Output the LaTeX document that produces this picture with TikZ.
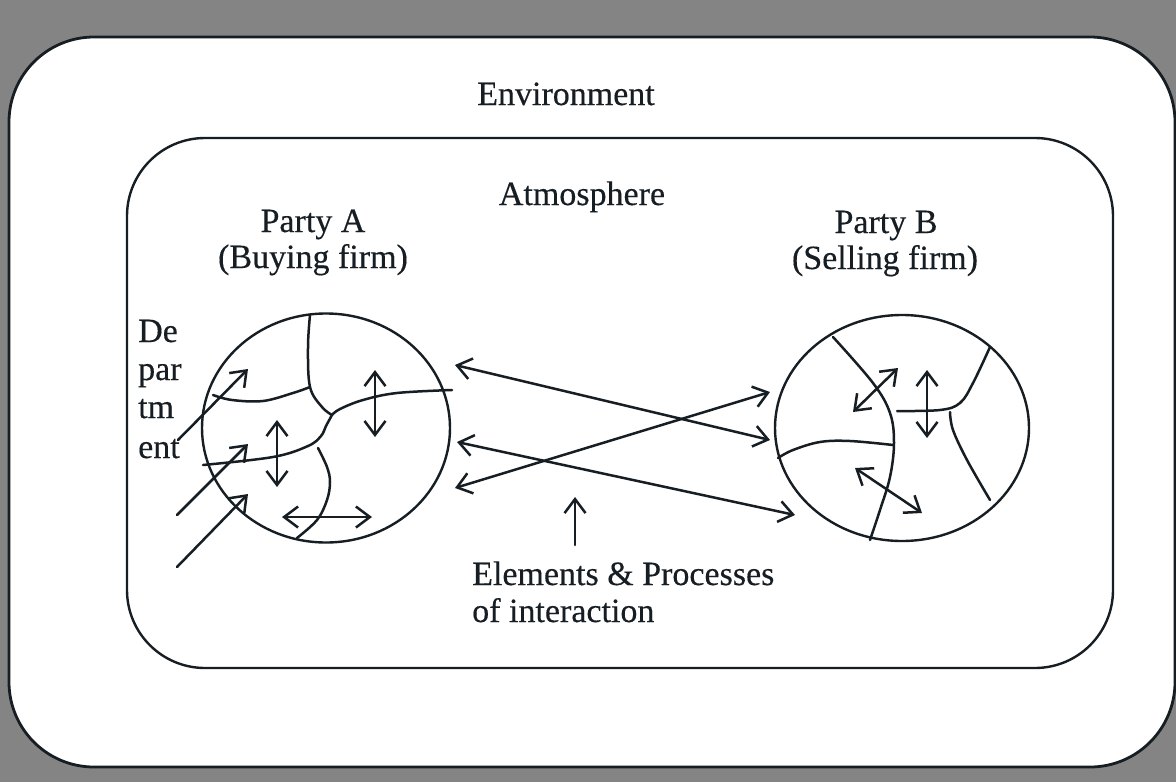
\documentclass[tikz,border=0pt]{standalone}
\usepackage{fontspec}
\setmainfont{Liberation Serif}[FakeBold=0.35]
\usetikzlibrary{arrows.meta,shapes.geometric}
\definecolor{bg}{RGB}{132,132,132}
\definecolor{ink}{RGB}{22,30,36}
\begin{document}
\begin{tikzpicture}[x=1pt,y=-1pt,
  lbl/.style={font=\fontsize{34}{37}\selectfont, inner sep=0pt, text=ink},
  ln/.style={line width=2.5pt, draw=ink, line cap=round, line join=round},
  tip/.tip={Straight Barb[length=14pt,width=21pt]},
  dbl/.style={ln, tip-tip},
  sgl/.style={ln, -tip},
  circ/.style={ellipse, draw=ink, line width=2.4pt, inner sep=0pt},
]
\useasboundingbox (0,0) rectangle (1176,782);
\fill[bg] (0,0) rectangle (1176,782);
% outer environment shape
\draw[line width=2.8pt, draw=ink, fill=white, rounded corners=85pt] (9,37) rectangle (1175,767);
% inner atmosphere shape
\draw[line width=2.4pt, draw=ink, rounded corners=78pt] (127,138) rectangle (1113,668);

% texts
\node[lbl, anchor=base] (env) at (566,105) {Environment};
\node[lbl, anchor=base] (atm) at (582,205) {Atmosphere};
\node[lbl, anchor=base] (pa1) at (313,232) {Party A};
\node[lbl, anchor=base] (pa2) at (313,268) {(Buying firm)};
\node[lbl, anchor=base] (pb1) at (886,233) {Party B};
\node[lbl, anchor=base] (pb2) at (885,269) {(Selling firm)};
\node[lbl, anchor=base west] (d1) at (138,342) {De};
\node[lbl, anchor=base west] (d2) at (138,380) {par};
\node[lbl, anchor=base west] (d3) at (138,418) {tm};
\node[lbl, anchor=base west] (d4) at (138,458) {ent};
\node[lbl, anchor=base west] (el1) at (472,585) {Elements \& Processes};
\node[lbl, anchor=base west] (el2) at (472,622) {of interaction};

% firms
\node[circ, minimum width=248pt, minimum height=229pt] (A) at (326,428) {};
\node[circ, minimum width=254pt, minimum height=226pt] (B) at (902,428) {};

% departments of A
\draw[ln] plot[smooth, tension=0.6] coordinates {(310,315) (308,347) (310,387) (322,407) (332,415)};
\draw[ln] plot[smooth, tension=0.6] coordinates {(213,395) (232,400) (263,401) (293,393) (310,387)};
\draw[ln] plot[smooth, tension=0.6] coordinates {(332,415) (340,409) (363,400) (397,393) (452,390)};
\draw[ln] plot[smooth, tension=0.6] coordinates {(332,415) (326,426) (321,436) (308,446) (273,457) (203,465)};
\draw[ln] plot[smooth, tension=0.6] coordinates {(318,448) (327,467) (330,482) (327,500) (317,520) (297,538)};
\coordinate (a1s) at (375,370); \coordinate (a1e) at (375,437);
\coordinate (a2s) at (277,420); \coordinate (a2e) at (277,487);
\coordinate (a3s) at (282,517); \coordinate (a3e) at (372,517);
\draw[dbl] (a1s) -- (a1e);
\draw[dbl] (a2s) -- (a2e);
\draw[dbl] (a3s) -- (a3e);
\coordinate (i1s) at (178,440); \coordinate (i1e) at (248,369);
\coordinate (i2s) at (177,515); \coordinate (i2e) at (248,444);
\coordinate (i3s) at (177,567); \coordinate (i3e) at (248,494);
\draw[sgl] (i1s) -- (i1e);
\draw[sgl] (i2s) -- (i2e);
\draw[sgl] (i3s) -- (i3e);

% departments of B
\draw[ln] plot[smooth, tension=0.6] coordinates {(833,337) (873,383) (890,413) (894,443) (890,477) (880,510) (870,540)};
\draw[ln] plot[smooth, tension=0.6] coordinates {(778,458) (793,450) (820,442) (850,441) (893,445)};
\draw[ln] plot[smooth, tension=0.6] coordinates {(897,411) (940,410) (960,403) (973,383) (990,347)};
\draw[ln] plot[smooth, tension=0.6] coordinates {(950,412) (953,430) (967,460) (990,500)};
\coordinate (b1s) at (853,412); \coordinate (b1e) at (898,368);
\coordinate (b2s) at (927,370); \coordinate (b2e) at (927,438);
\coordinate (b3s) at (855,468); \coordinate (b3e) at (922,513);
\draw[dbl] (b1s) -- (b1e);
\draw[dbl] (b2s) -- (b2e);
\draw[dbl] (b3s) -- (b3e);

% interaction
\coordinate (m1s) at (455,365); \coordinate (m1e) at (770,440);
\coordinate (m2s) at (455,488); \coordinate (m2e) at (770,392);
\coordinate (m3s) at (457,442); \coordinate (m3e) at (795,515);
\draw[dbl] (m1s) -- (m1e);
\draw[dbl] (m2s) -- (m2e);
\draw[dbl] (m3s) -- (m3e);
\coordinate (ups) at (575,545);
\coordinate (up) at (575,497);
\draw[sgl] (ups) -- (up);
\end{tikzpicture}
\end{document}
